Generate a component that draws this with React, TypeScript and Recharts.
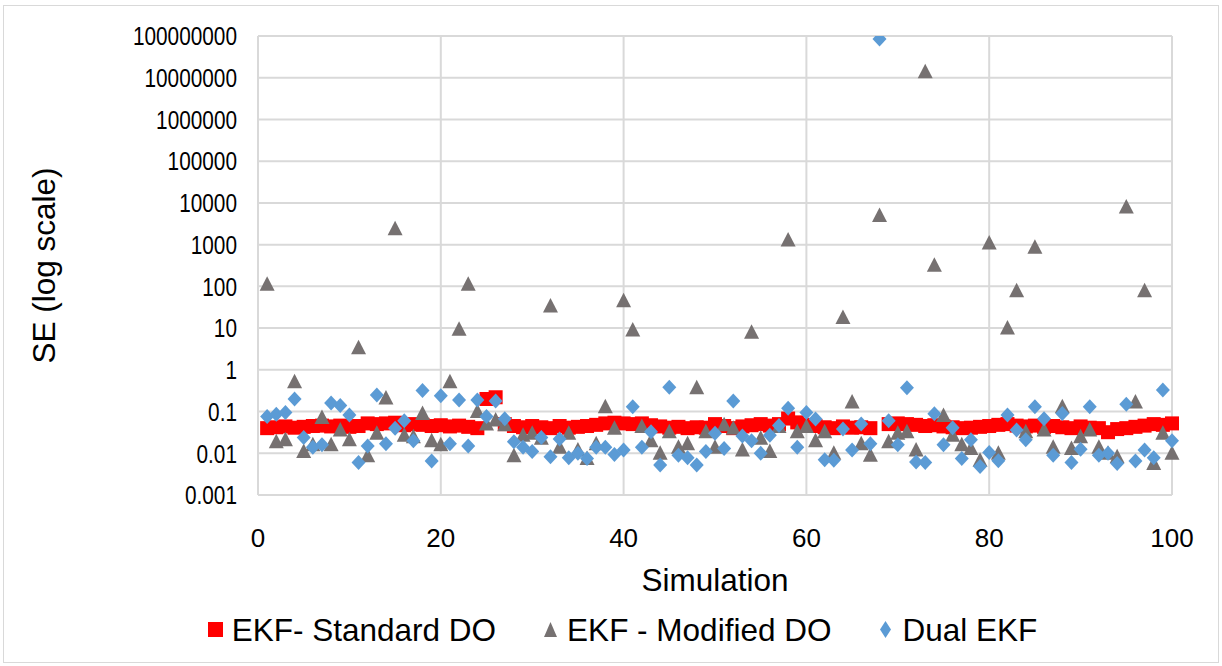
import React from 'react';
import { ScatterChart, Scatter, XAxis, YAxis, CartesianGrid, Legend } from 'recharts';

// simulation number 1..100 (x categories)
const simulations = Array.from({ length: 100 }, (_, i) => i + 1);

const xTicks = [0, 20, 40, 60, 80, 100];
const yTicks = [0.001, 0.01, 0.1, 1, 10, 100, 1000, 10000, 100000, 1000000, 10000000, 100000000];

// EKF- Standard DO (sim 68 has no point)
const standardDO = [
  0.040, 0.042, 0.044, 0.041, 0.043, 0.045, 0.046, 0.044, 0.046, 0.043,
  0.045, 0.052, 0.050, 0.052, 0.054, 0.047, 0.050, 0.048, 0.045, 0.047,
  0.044, 0.046, 0.043, 0.040, 0.20, 0.22, 0.050, 0.045, 0.042, 0.045,
  0.042, 0.040, 0.045, 0.041, 0.043, 0.045, 0.048, 0.052, 0.054, 0.052,
  0.050, 0.052, 0.047, 0.044, 0.041, 0.043, 0.040, 0.042, 0.041, 0.050,
  0.045, 0.040, 0.044, 0.047, 0.050, 0.046, 0.050, 0.068, 0.055, 0.048,
  0.045, 0.042, 0.040, 0.044, 0.041, 0.042, 0.040, null, 0.050, 0.052,
  0.050, 0.048, 0.045, 0.047, 0.044, 0.042, 0.040, 0.041, 0.043, 0.045,
  0.048, 0.050, 0.046, 0.044, 0.046, 0.043, 0.045, 0.042, 0.040, 0.044,
  0.041, 0.040, 0.032, 0.038, 0.040, 0.043, 0.046, 0.050, 0.048, 0.052,
];

// EKF - Modified DO
const modifiedDO = [
  112, 0.019, 0.021, 0.52, 0.011, 0.016, 0.072, 0.016, 0.036, 0.021,
  3.4, 0.0087, 0.030, 0.21, 2400, 0.027, 0.025, 0.09, 0.020, 0.016,
  0.52, 9.4, 112, 0.10, 0.05, 0.063, 0.048, 0.0087, 0.027, 0.030,
  0.023, 34, 0.014, 0.030, 0.012, 0.0075, 0.017, 0.13, 0.040, 45,
  9, 0.044, 0.020, 0.010, 0.033, 0.014, 0.017, 0.37, 0.033, 0.014,
  0.048, 0.040, 0.012, 8, 0.023, 0.011, 0.044, 1300, 0.033, 0.044,
  0.020, 0.033, 0.010, 18, 0.17, 0.017, 0.009, 5000, 0.019, 0.030,
  0.033, 0.012, 14000000, 320, 0.08, 0.027, 0.016, 0.013, 0.0068, 1100,
  0.010, 10, 78, 0.033, 870, 0.036, 0.014, 0.13, 0.013, 0.025,
  0.036, 0.014, 0.010, 0.0082, 8000, 0.17, 78, 0.0057, 0.030, 0.010,
];

// Dual EKF
const dualEKF = [
  0.076, 0.086, 0.095, 0.20, 0.024, 0.014, 0.016, 0.16, 0.14, 0.083,
  0.006, 0.015, 0.25, 0.017, 0.040, 0.060, 0.020, 0.32, 0.0065, 0.24,
  0.017, 0.19, 0.015, 0.19, 0.076, 0.18, 0.067, 0.019, 0.014, 0.011,
  0.024, 0.0082, 0.022, 0.0078, 0.010, 0.0075, 0.014, 0.014, 0.0094, 0.012,
  0.13, 0.014, 0.033, 0.0052, 0.38, 0.009, 0.0078, 0.0052, 0.011, 0.030,
  0.013, 0.18, 0.026, 0.020, 0.010, 0.027, 0.046, 0.12, 0.014, 0.095,
  0.066, 0.007, 0.0068, 0.038, 0.012, 0.050, 0.017, 85000000, 0.060, 0.016,
  0.37, 0.0062, 0.006, 0.088, 0.016, 0.041, 0.0075, 0.021, 0.0048, 0.0105,
  0.0066, 0.083, 0.036, 0.021, 0.13, 0.067, 0.009, 0.09, 0.006, 0.0124,
  0.13, 0.009, 0.010, 0.0057, 0.15, 0.0065, 0.012, 0.0078, 0.33, 0.020,
];

const FONT = '"Liberation Sans", Arial, sans-serif';
const RED = '#FF0000';
const GRAY = '#767171';
const BLUE = '#5B9BD5';

const toPoints = (vals: (number | null)[]) =>
  simulations.map((s, i) => ({ x: s, y: vals[i] })).filter((p) => p.y != null);

const Square = ({ cx, cy }: any) => <rect x={cx - 7} y={cy - 7} width={14} height={14} fill={RED} />;
const Triangle = ({ cx, cy }: any) => (
  <polygon points={`${cx},${cy - 8} ${cx + 7.5},${cy + 6.5} ${cx - 7.5},${cy + 6.5}`} fill={GRAY} />
);
const Diamond = ({ cx, cy }: any) => (
  <polygon points={`${cx},${cy - 7.5} ${cx + 7},${cy} ${cx},${cy + 7.5} ${cx - 7},${cy}`} fill={BLUE} />
);

const legendItems = [
  { label: 'EKF- Standard DO', icon: <rect x={1} y={4} width={15} height={15} fill={RED} /> },
  { label: 'EKF - Modified DO', icon: <polygon points="8.5,4 15,19 2,19" fill={GRAY} /> },
  { label: 'Dual EKF', icon: <polygon points="8.5,3 14,11.5 8.5,20 3,11.5" fill={BLUE} /> },
];

const LegendContent = () => (
  <div
    style={{
      display: 'flex',
      justifyContent: 'center',
      gap: 46,
      paddingLeft: 22,
      fontFamily: FONT,
      fontSize: 31.5,
      lineHeight: '36px',
      color: '#000',
    }}
  >
    {legendItems.map((it) => (
      <div key={it.label} style={{ display: 'flex', alignItems: 'center', gap: 8 }}>
        <svg width={17} height={24}>{it.icon}</svg>
        <span>{it.label}</span>
      </div>
    ))}
  </div>
);

const XTitle = ({ viewBox }: any) => (
  <text x={viewBox.x + viewBox.width / 2} y={591} textAnchor="middle" fontFamily={FONT} fontSize={31.5} fill="#000">
    Simulation
  </text>
);

const YTitle = ({ viewBox }: any) => {
  const cy = viewBox.y + viewBox.height / 2;
  return (
    <text x={55} y={cy} transform={`rotate(-90, 55, ${cy})`} textAnchor="middle" fontFamily={FONT} fontSize={31.5} fill="#000">
      SE (log scale)
    </text>
  );
};

const YTick = ({ x, y, payload }: any) => (
  <g transform={`translate(${x},${y}) scale(0.8,1)`}>
    <text x={0} y={0} dy="0.355em" textAnchor="end" fontFamily={FONT} fontSize={26} fill="#000">
      {String(payload.value)}
    </text>
  </g>
);

const xTickStyle = { fill: '#000', fontSize: 26, fontFamily: FONT };

export default function App() {
  return (
    <div style={{ position: 'absolute', left: 0, top: 0, width: 1222, height: 666, background: '#fff' }}>
      <div style={{ position: 'absolute', left: 3, top: 5, width: 1214, height: 656, border: '1px solid #d9d9d9' }} />
      <ScatterChart width={1222} height={666} margin={{ top: 36, right: 50, left: 0, bottom: 71 }}>
        <CartesianGrid stroke="#d9d9d9" strokeWidth={2} />
        <XAxis
          type="number"
          dataKey="x"
          domain={[0, 100]}
          ticks={xTicks}
          height={100}
          tickLine={false}
          tickSize={32}
          tickMargin={2}
          axisLine={{ stroke: '#d9d9d9', strokeWidth: 2 }}
          tick={xTickStyle}
          label={<XTitle />}
        />
        <YAxis
          type="number"
          dataKey="y"
          scale="log"
          domain={[0.001, 100000000]}
          ticks={yTicks}
          allowDataOverflow
          width={258}
          tickLine={false}
          tickSize={19}
          tickMargin={2}
          axisLine={{ stroke: '#d9d9d9', strokeWidth: 2 }}
          tick={<YTick />}
          label={<YTitle />}
        />
        <Legend
          layout="vertical"
          align="center"
          verticalAlign="middle"
          wrapperStyle={{ left: 0, top: 612, width: 1222 }}
          content={<LegendContent />}
        />
        <Scatter name="EKF- Standard DO" data={toPoints(standardDO)} shape={<Square />} isAnimationActive={false} />
        <Scatter name="EKF - Modified DO" data={toPoints(modifiedDO)} shape={<Triangle />} isAnimationActive={false} />
        <Scatter name="Dual EKF" data={toPoints(dualEKF)} shape={<Diamond />} isAnimationActive={false} />
      </ScatterChart>
    </div>
  );
}
